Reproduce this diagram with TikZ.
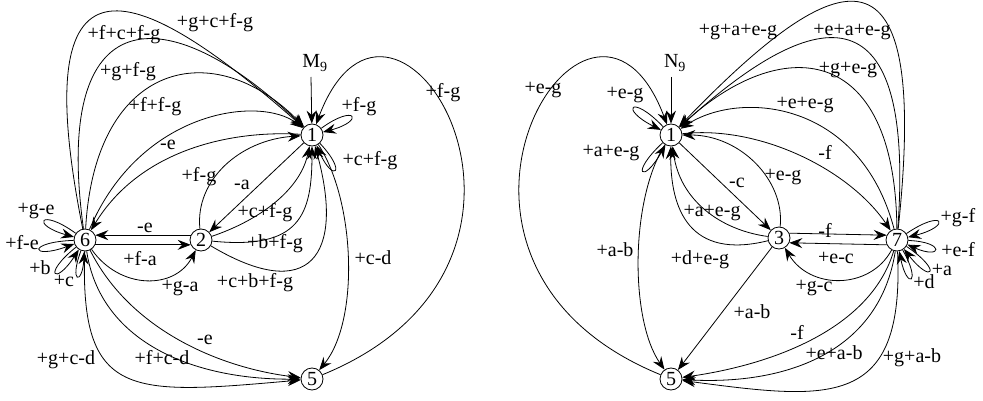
\documentclass[tikz,border=0pt]{standalone}
\usepackage{fontspec}
\setmainfont{Liberation Serif}
\usetikzlibrary{arrows.meta}
\begin{document}
\begin{tikzpicture}[x=1pt,y=-1pt,line width=0.8pt,
  vtx/.style={circle,draw,minimum size=22pt,inner sep=0pt,font=\fontsize{20}{20}\selectfont},
  lbl/.style={inner sep=0pt,font=\fontsize{20}{20}\selectfont},
  arr/.style={-{Stealth[length=13pt,width=10pt,inset=4.5pt]}}]
\useasboundingbox (0,0) rectangle (983,401);
% ---------------- left graph ----------------
\node[vtx] (L1) at (312,135) {1};
\node[vtx] (L6) at (85,240) {6};
\node[vtx] (L2) at (201,240) {2};
\node[vtx] (L5) at (312,379) {5};
\node[lbl] (LM) at (315,63) {M\textsubscript{9}};
\coordinate (LMs) at (311,77);
\draw[arr] (LMs) -- (L1);
% 6 -> 1
\draw[arr] (L6) .. controls (25,-60) and (130,-25) .. (L1);
\node[lbl] (la1) at (215,23) {+g+c+f-g};
\draw[arr] (L6) .. controls (52,0) and (165,-5) .. (L1);
\node[lbl] (la2) at (124,35) {+f+c+f-g};
\draw[arr] (L6) .. controls (95,60) and (215,35) .. (L1);
\node[lbl] (la3) at (128,72) {+g+f-g};
\draw[arr] (L6) .. controls (140,110) and (260,95) .. (L1);
\node[lbl] (la4) at (155,107) {+f+f-g};
\draw[arr] (L1) .. controls (230,130) and (140,150) .. (L6);
\node[lbl] (la5) at (168,145) {-e};
% loops at 1
\draw[arr] (L1) .. controls (356,103) and (365,121) .. (L1);
\node[lbl] (la6) at (359,107) {+f-g};
\draw[arr] (L1) .. controls (348,173) and (333,183) .. (L1);
\node[lbl] (la7) at (370,161) {+c+f-g};
% 5 <-> 1
\draw[arr] (L5) .. controls (603,260) and (393,-80) .. (L1);
\node[lbl] (la8) at (443,93) {+f-g};
\draw[arr] (L1) .. controls (355,200) and (360,320) .. (L5);
\node[lbl] (la9) at (373,258) {+c-d};
% 2 <-> 1
\draw[arr] (L2) .. controls (195,180) and (240,140) .. (L1);
\node[lbl] (la10) at (199,177) {+f-g};
\draw[arr] (L1) -- (L2);
\node[lbl] (la11) at (242,185) {-a};
\draw[arr] (L2) .. controls (260,220) and (300,190) .. (L1);
\node[lbl] (la12) at (265,213) {+c+f-g};
\draw[arr] (L2) .. controls (300,250) and (312,215) .. (L1);
\node[lbl] (la13) at (275,244) {+b+f-g};
\draw[arr] (L2) .. controls (310,305) and (345,255) .. (L1);
\node[lbl] (la14) at (255,283) {+c+b+f-g};
% 6 <-> 2
\draw[arr] (L2.155) -- (L6.25);
\node[lbl] (la15) at (145,228) {-e};
\draw[arr] (L6.-25) -- (L2.205);
\node[lbl] (la16) at (140,259) {+f-a};
\draw[arr] (L6) .. controls (120,290) and (175,290) .. (L2);
\node[lbl] (la17) at (180,288) {+g-a};
% loops at 6
\draw[arr] (L6) .. controls (39.4,207) and (30.6,225) .. (L6);
\node[lbl] (la18) at (36,211) {+g-e};
\draw[arr] (L6) .. controls (26.5,242) and (30,260) .. (L6);
\node[lbl] (la19) at (22,243) {+f-e};
\draw[arr] (L6) .. controls (41.7,274.5) and (55,286.5) .. (L6);
\node[lbl] (la20) at (40,268) {+b};
\draw[arr] (L6) .. controls (68.7,283) and (82.3,286) .. (L6);
\node[lbl] (la21) at (64,281) {+c};
% 6 -> 5
\draw[arr] (L6) .. controls (130,330) and (220,368) .. (L5);
\node[lbl] (la22) at (205,340) {-e};
\draw[arr] (L6) .. controls (100,340) and (190,380) .. (L5);
\node[lbl] (la23) at (162,358) {+f+c-d};
\draw[arr] (L6) .. controls (80,400) and (130,395) .. (L5);
\node[lbl] (la24) at (66,360) {+g+c-d};
% ---------------- right graph ----------------
\node[vtx] (R1) at (671,135) {1};
\node[vtx] (R3) at (779,238) {3};
\node[vtx] (R7) at (897,240) {7};
\node[vtx] (R5) at (671,379) {5};
\node[lbl] (RN) at (675,63) {N\textsubscript{9}};
\coordinate (RNs) at (671,77);
\draw[arr] (RNs) -- (R1);
% 7 -> 1
\draw[arr] (R7) .. controls (930,-70) and (840,-40) .. (R1);
\node[lbl] (ra1) at (738,32) {+g+a+e-g};
\draw[arr] (R7) .. controls (915,-10) and (820,0) .. (R1);
\node[lbl] (ra2) at (852,32) {+e+a+e-g};
\draw[arr] (R7) .. controls (895,40) and (780,35) .. (R1);
\node[lbl] (ra3) at (848,70) {+g+e-g};
\draw[arr] (R7) .. controls (860,100) and (740,90) .. (R1);
\node[lbl] (ra4) at (805,105) {+e+e-g};
\draw[arr] (R1) .. controls (760,125) and (850,170) .. (R7);
\node[lbl] (ra5) at (825,152) {-f};
% loops at 1
\draw[arr] (R1) .. controls (631,93) and (619,109) .. (R1);
\node[lbl] (ra6) at (625,95) {+e-g};
\draw[arr] (R1) .. controls (629,174) and (643,185) .. (R1);
\node[lbl] (ra7) at (611,153) {+a+e-g};
% 5 <-> 1
\draw[arr] (R5) .. controls (380,260) and (590,-80) .. (R1);
\node[lbl] (ra8) at (543,90) {+e-g};
\draw[arr] (R1) .. controls (630,200) and (630,320) .. (R5);
\node[lbl] (ra9) at (615,250) {+a-b};
% 1 <-> 3
\draw[arr] (R1) -- (R3);
\node[lbl] (ra10) at (737,183) {-c};
\draw[arr] (R3) .. controls (785,180) and (740,135) .. (R1);
\node[lbl] (ra11) at (783,177) {+e-g};
\draw[arr] (R3) .. controls (720,230) and (680,200) .. (R1);
\node[lbl] (ra12) at (712,213) {+a+e-g};
\draw[arr] (R3) .. controls (690,260) and (670,210) .. (R1);
\node[lbl] (ra13) at (700,260) {+d+e-g};
% 3 -> 5
\draw[arr] (R3) -- (R5);
\node[lbl] (ra14) at (752,312) {+a-b};
% 3 <-> 7
\draw[arr] (R3.25) -- (R7.155);
\node[lbl] (ra15) at (825,230) {-f};
\draw[arr] (R7.205) -- (R3.-25);
\node[lbl] (ra16) at (836,258) {+e-c};
\draw[arr] (R7) .. controls (870,290) and (810,290) .. (R3);
\node[lbl] (ra17) at (814,288) {+g-c};
% loops at 7
\draw[arr] (R7) .. controls (944,208) and (952,226) .. (R7);
\node[lbl] (ra18) at (958,218) {+g-f};
\draw[arr] (R7) .. controls (946,242) and (942,260) .. (R7);
\node[lbl] (ra19) at (958,250) {+e-f};
\draw[arr] (R7) .. controls (943.6,271.4) and (931.4,284.6) .. (R7);
\node[lbl] (ra20) at (942,270) {+a};
\draw[arr] (R7) .. controls (922,284) and (907,290) .. (R7);
\node[lbl] (ra21) at (924,282) {+d};
% 7 -> 5
\draw[arr] (R7) .. controls (870,330) and (770,365) .. (R5);
\node[lbl] (ra22) at (797,332) {-f};
\draw[arr] (R7) .. controls (880,350) and (790,385) .. (R5);
\node[lbl] (ra23) at (834,353) {+e+a-b};
\draw[arr] (R7) .. controls (905,410) and (830,400) .. (R5);
\node[lbl] (ra24) at (912,358) {+g+a-b};
\end{tikzpicture}
\end{document}
